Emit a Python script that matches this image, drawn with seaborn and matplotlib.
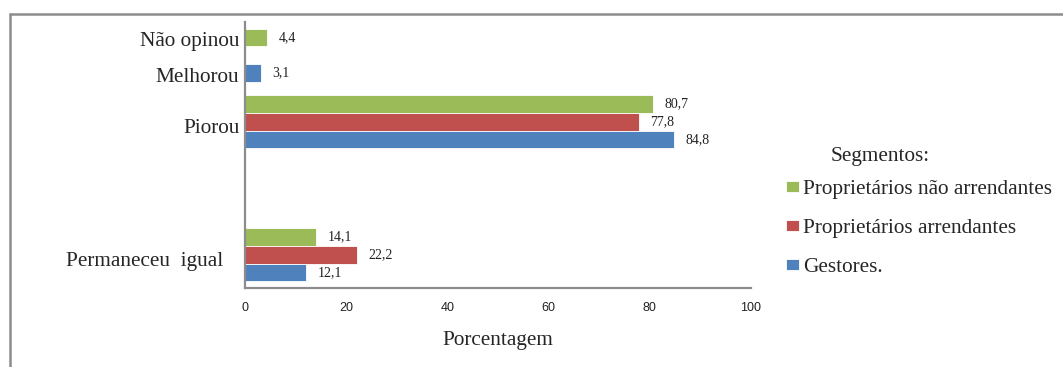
import numpy as np
import pandas as pd
import matplotlib
matplotlib.use("Agg")
import matplotlib.pyplot as plt
from matplotlib.lines import Line2D
from matplotlib.transforms import ScaledTranslation
import seaborn as sns

# Respostas e percentuais por segmento
categorias = ["Não opinou", "Melhorou", "Piorou", "Permaneceu  igual"]
segmentos = ["Proprietários não arrendantes", "Proprietários arrendantes", "Gestores."]
nao_arrendantes = [4.4, np.nan, 80.7, 14.1]
arrendantes = [np.nan, np.nan, 77.8, 22.2]
gestores = [np.nan, 3.1, 84.8, 12.1]
ticks_x = [0, 20, 40, 60, 80, 100]

cores = ["#9BBB59", "#C0504D", "#4F81BD"]
cinza = "#8c8c8c"
fonte = 15.3

# "Não opinou" e "Melhorou" dividem a mesma faixa do eixo; há uma faixa vazia
# entre "Piorou" e "Permaneceu igual"
faixa = {"Não opinou": "faixa_1", "Melhorou": "faixa_1",
         "Piorou": "Piorou", "Permaneceu  igual": "Permaneceu  igual"}
ordem_faixas = ["faixa_1", "Piorou", "faixa_vazia", "Permaneceu  igual"]

linhas = []
for seg, vals in zip(segmentos, [nao_arrendantes, arrendantes, gestores]):
    for cat, v in zip(categorias, vals):
        if not np.isnan(v):
            linhas.append({"resposta": cat, "faixa": faixa[cat],
                           "segmento": seg, "valor": v})
df = pd.DataFrame(linhas)

sns.set_style("white")
plt.rcParams["font.family"] = ["Liberation Serif", "DejaVu Serif"]

fig = plt.figure(figsize=(10.63, 3.67), dpi=100)
W, H = 1063, 367
ax = fig.add_axes([245 / W, 1 - 288 / H, (751 - 245) / W, (288 - 22) / H])

sns.barplot(data=df, y="faixa", x="valor", hue="segmento", order=ordem_faixas,
            hue_order=segmentos, palette=cores, saturation=1, orient="h",
            width=0.8, edgecolor="white", linewidth=0.6, ax=ax, legend=True)

ax.set_xlim(0, 100)
ax.set_xticks(ticks_x)
ax.set_xticklabels([str(t) for t in ticks_x], family="Liberation Sans",
                   fontsize=9, color="#222222")
ax.tick_params(axis="x", length=0, pad=10)
ax.tick_params(axis="y", length=0, pad=4)
ax.set_yticks(range(len(ordem_faixas)))
ax.set_yticklabels(["", "Piorou", "", "Permaneceu  igual   "], fontsize=fonte)
desce = ScaledTranslation(0, -3 / 72, fig.dpi_scale_trans)
for rot in ax.get_yticklabels():
    rot.set_transform(rot.get_transform() + desce)
ax.set_ylabel("")
ax.set_xlabel("Porcentagem", fontsize=fonte, labelpad=12)

for lado in ["top", "right"]:
    ax.spines[lado].set_visible(False)
for lado in ["left", "bottom"]:
    ax.spines[lado].set_color(cinza)
    ax.spines[lado].set_linewidth(1.6)

# Rótulos de valor com vírgula decimal
for cont in ax.containers:
    rot = [f"{v:.1f}".replace(".", ",") for v in cont.datavalues]
    ax.bar_label(cont, labels=rot, padding=8, fontsize=10, color="#222222")

# Rótulos das respostas que dividem a primeira faixa
df_topo = df[df["faixa"] == "faixa_1"]
for cont in ax.containers:
    for barra, v in zip(cont.patches, cont.datavalues):
        sel = df_topo[np.isclose(df_topo["valor"], v)]
        if len(sel) and abs(barra.get_y() + barra.get_height() / 2) < 0.5:
            yc = barra.get_y() + barra.get_height() / 2
            ax.annotate(sel["resposta"].iloc[0], xy=(0, yc),
                        xycoords=("axes fraction", "data"),
                        xytext=(-4, -3), textcoords="offset points",
                        ha="right", va="center", fontsize=fonte)

# Legenda
handles, labels = ax.get_legend_handles_labels()
ax.legend(handles, labels, loc="upper left",
          bbox_to_anchor=(786 / W, 1 - 180 / H), bbox_transform=fig.transFigure,
          frameon=False, fontsize=fonte, handlelength=0.6, handleheight=0.4,
          handletextpad=0.2, labelspacing=0.95, borderpad=0, borderaxespad=0)
fig.text(831 / W, 1 - 157 / H, "Segmentos:", fontsize=fonte,
         ha="left", va="center")

# Moldura externa
fig.add_artist(Line2D([10 / W, 1], [1 - 14 / H, 1 - 14 / H],
                      transform=fig.transFigure, color=cinza, lw=1.8))
fig.add_artist(Line2D([10 / W, 10 / W], [0, 1 - 14 / H],
                      transform=fig.transFigure, color=cinza, lw=1.8))

fig.savefig("out.png", dpi=100)
